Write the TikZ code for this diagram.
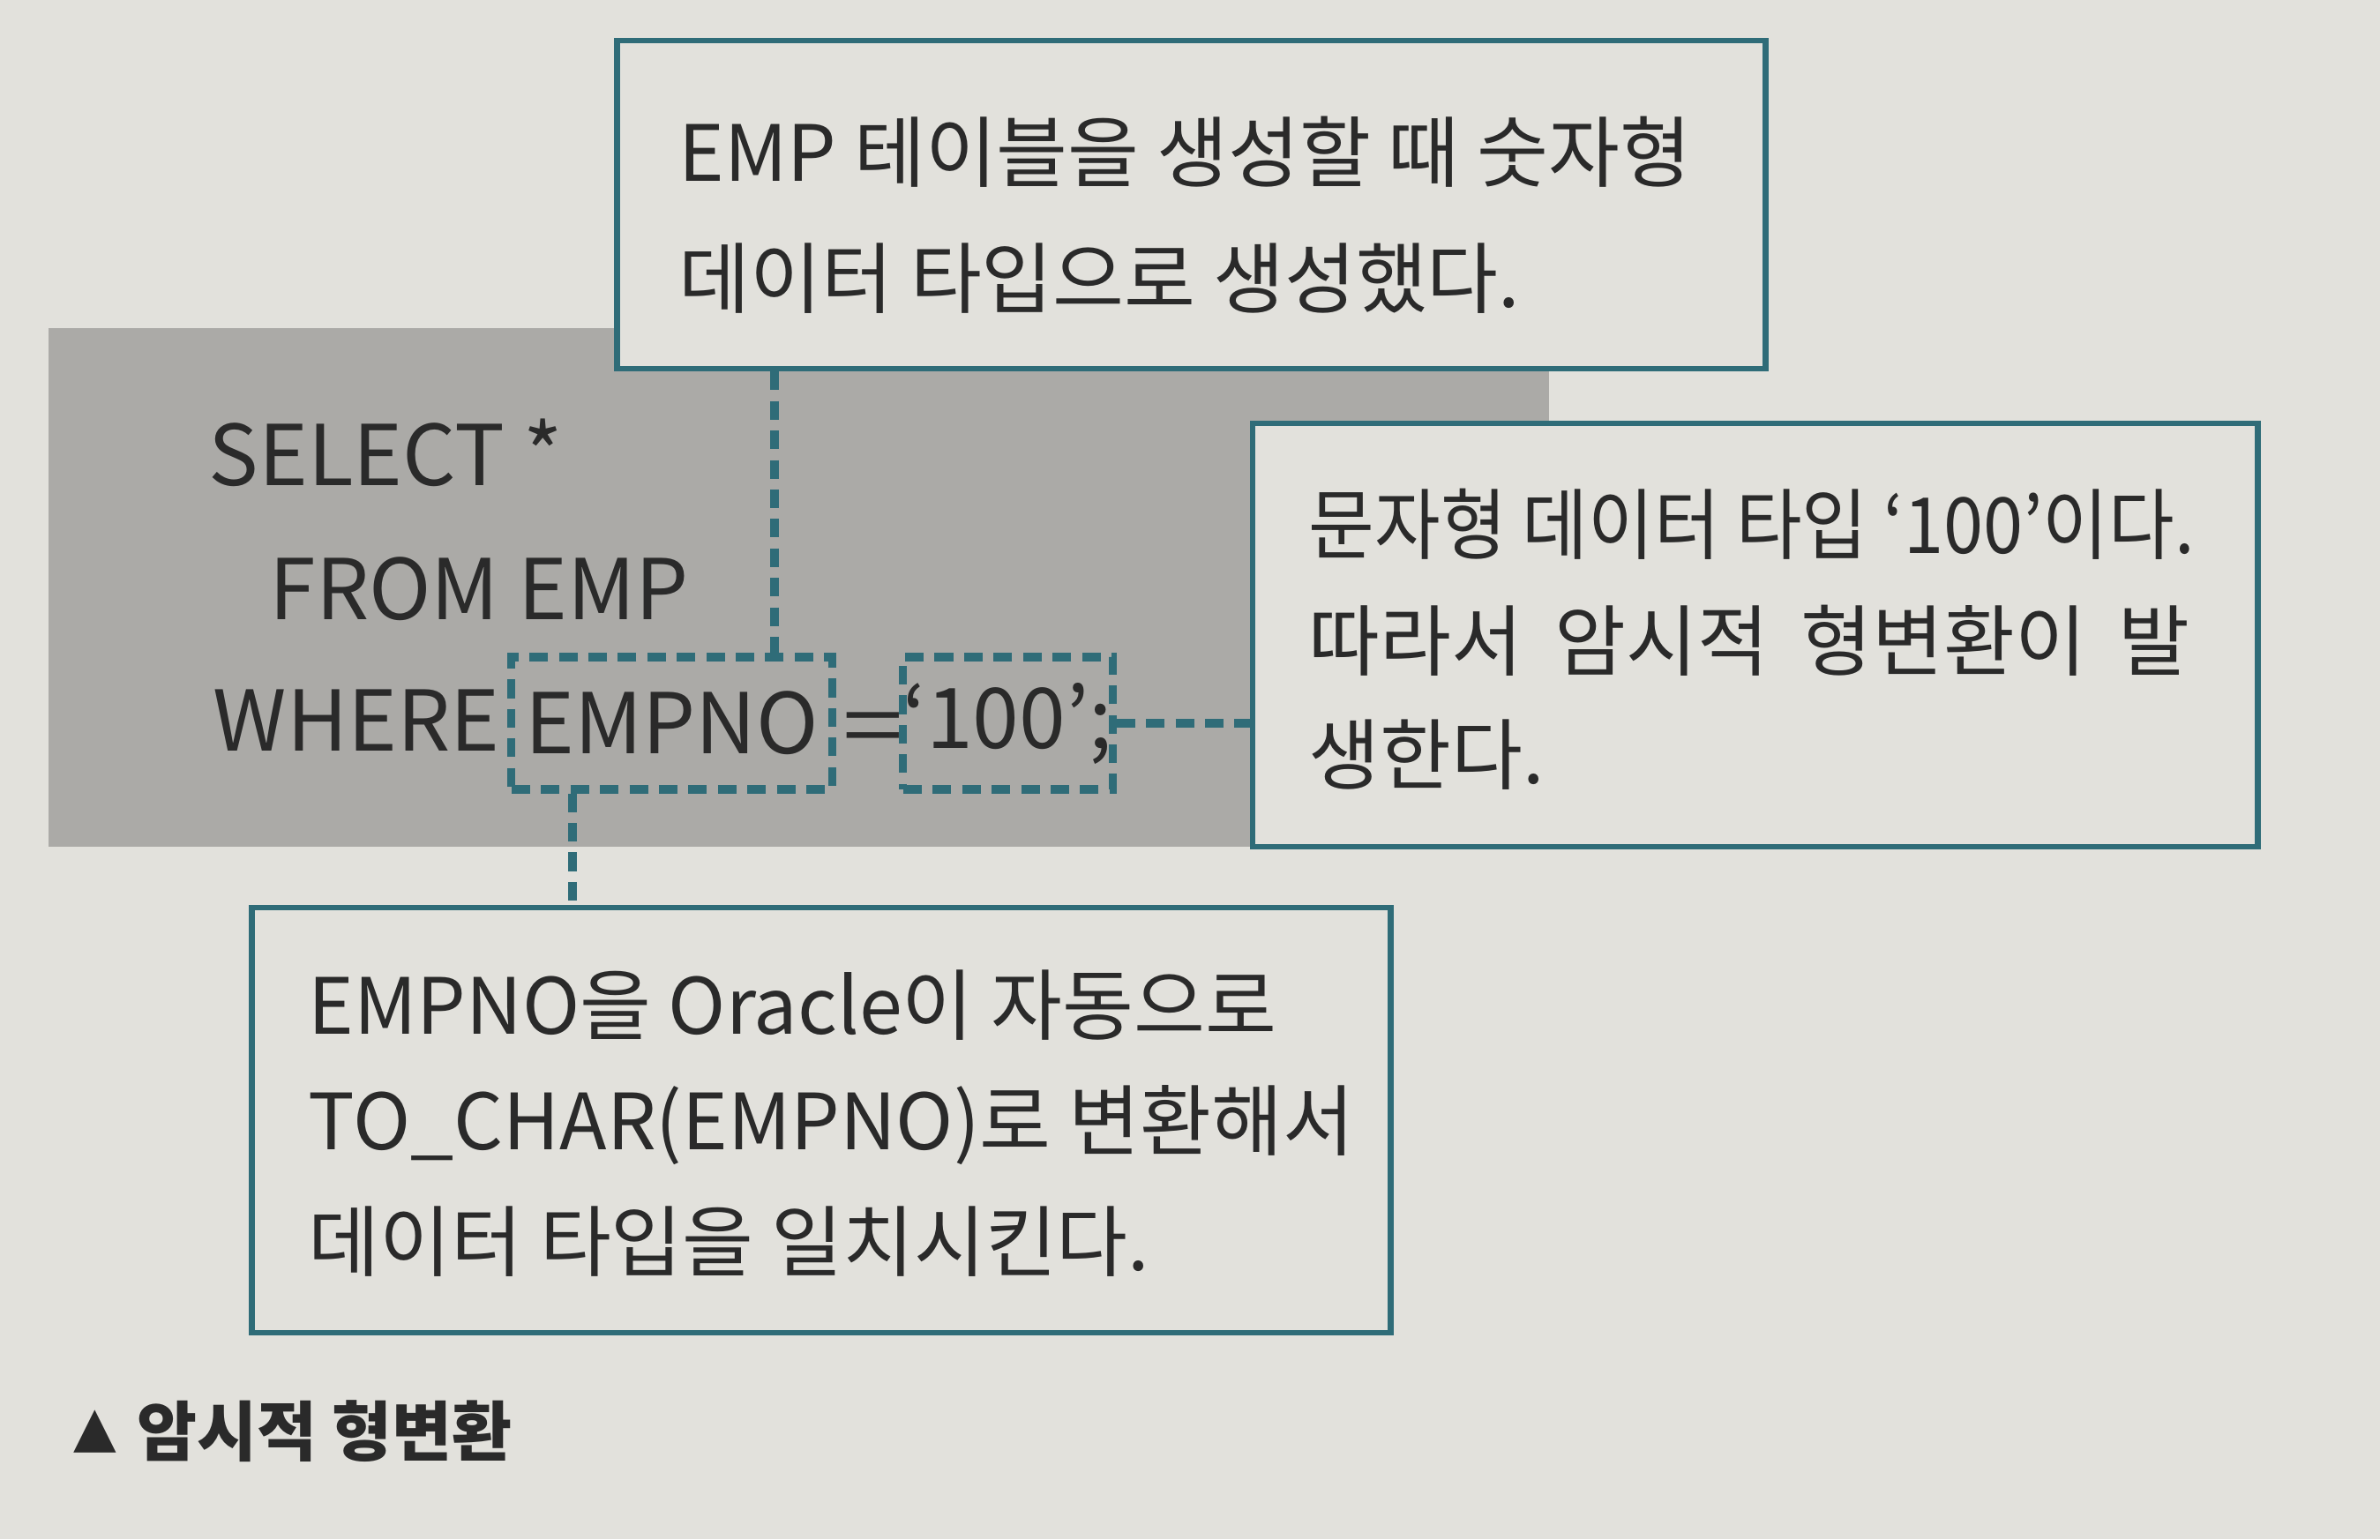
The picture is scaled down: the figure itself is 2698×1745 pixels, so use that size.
\documentclass[tikz,border=0pt]{standalone}
\usepackage{fontspec}
\usepackage{graphicx}
\setmainfont{Noto Sans CJK KR}
\newfontfamily\symfont{DejaVu Sans}
\definecolor{pagebg}{HTML}{E2E1DC}
\definecolor{graybox}{HTML}{ABAAA7}
\definecolor{teal}{HTML}{2F6C78}
\definecolor{ink}{HTML}{2A2A2A}
\tikzset{
  callout/.style={draw=teal, line width=1.8pt, fill=pagebg, inner sep=0pt},
  dashbox/.style={draw=teal, line width=2.6pt, dash pattern=on 6pt off 3.5pt, inner sep=0pt},
  dashline/.style={draw=teal, line width=2.6pt, dash pattern=on 6pt off 3.5pt},
  note/.style={anchor=west, inner sep=0pt, font=\fontsize{25}{30}\selectfont, text=ink, text height=0.8em, text depth=0.1em},
  sql/.style={anchor=west, inner sep=0pt, font=\fontsize{27}{32}\selectfont, text=ink, text height=0.75em, text depth=0.05em},
}
\begin{document}
\begin{tikzpicture}[x=0.01cm, y=-0.01cm]
\useasboundingbox (0,0) rectangle (2698,1745);
\fill[pagebg] (0,0) rectangle (2698,1745);
\node[fill=graybox, inner sep=0pt, minimum width=17cm, minimum height=5.88cm] (code) at (905,666) {};
\node[callout, minimum width=13.01cm, minimum height=3.72cm] (topbox) at (1350.5,232) {};
\node[callout, minimum width=11.39cm, minimum height=4.80cm] (rightbox) at (1989.5,720) {};
\node[callout, minimum width=12.90cm, minimum height=4.82cm] (botbox) at (931,1270) {};
% top box text
\node[note] (t1) at (769,193) {EMP 테이블을 생성할 때 숫자형};
\node[note] (t2) at (769,336) {데이터 타입으로 생성했다.};
% right box text
\node[note] (r1) at (1483,615) {\scalebox{0.923}[1]{문자형 데이터 타입 ‘100’이다.}};
\node[note] (r2) at (1483,747) {\makebox[9.98cm][s]{따라서 암시적 형변환이 발}};
\node[note] (r3) at (1483,876) {생한다.};
% bottom box text
\node[note] (b1) at (349,1160) {EMPNO을 Oracle이 자동으로};
\node[note] (b2) at (349,1291) {TO\_CHAR(EMPNO)로 변환해서};
\node[note] (b3) at (349,1428) {데이터 타입을 일치시킨다.};
% SQL
\node[sql] (s1) at (236,538) {SELECT *};
\node[sql] (s2) at (305,690) {FROM EMP};
\node[sql] (s3) at (241,839) {WHERE};
\node[dashbox, minimum width=3.63cm, minimum height=1.50cm, font=\fontsize{27}{32}\selectfont, text=ink] (empno) at (761.5,820) {EMPNO};
\node[sql] (eq) at (955,845) {\scalebox{1.3}[1]{=}};
\node[dashbox, minimum width=2.21cm, minimum height=1.50cm, font=\fontsize{27}{32}\selectfont, text=ink] (hundred) at (1142.5,820) {‘100’;};
% connectors
\coordinate (c1) at (878,0);
\coordinate (c2) at (649,0);
\draw[dashline] (topbox.south -| c1) -- (empno.north -| c1);
\draw[dashline] (hundred.east) -- (hundred.east -| rightbox.west);
\draw[dashline] (empno.south -| c2) -- (botbox.north -| c2);
% caption
\node[anchor=west, inner sep=0pt, text=ink, font=\symfont\fontsize{18}{20}\selectfont] (tri) at (83,1623) {▲};
\node[anchor=west, inner sep=0pt, text=ink, font=\bfseries\fontsize{21}{24}\selectfont] (cap) at (155,1623) {암시적 형변환};
\end{tikzpicture}
\end{document}
